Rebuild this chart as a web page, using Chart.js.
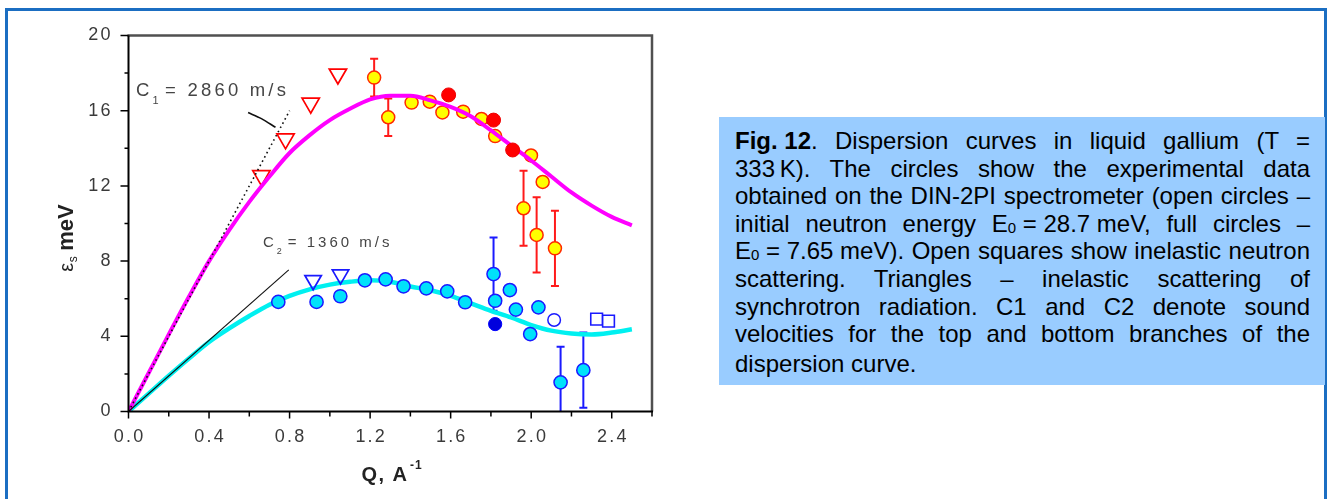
<!DOCTYPE html>
<html>
<head>
<meta charset="utf-8">
<script src="https://cdn.jsdelivr.net/npm/chart.js@4.4.1/dist/chart.umd.min.js"></script>
<style>
  html, body { margin: 0; padding: 0; background: #fff; }
  body { width: 1328px; height: 499px; position: relative; overflow: hidden;
         font-family: "Liberation Sans", Arial, sans-serif; }
  #frame { position: absolute; left: 5px; top: 8px; width: 1316px; height: 600px;
           border: 3px solid #1b6ec2; }
  #plot { position: absolute; left: 0; top: 0; width: 700px; height: 499px; }
  #caption { position: absolute; left: 719px; top: 117px; width: 575px; height: 258px;
             padding: 10px 15px 0 16px; background: #99ccff; color: #000;
             font-size: 24px; line-height: 27.6px; }
  #caption .ln { height: 27.6px; white-space: nowrap; text-align: justify; text-align-last: justify; }
  #caption .last { text-align-last: left; margin-top: 2.4px; }
  #caption .sub { font-size: 15px; line-height: 0; position: relative; top: 1px; }
  #caption .keep { display: inline-block; }
</style>
</head>
<body>
<div id="frame"></div>
<div id="plot"><canvas id="dispersion" width="700" height="499"></canvas></div>
<div id="caption">
  <div class="ln"><b class="keep">Fig. 12</b>. Dispersion curves in liquid gallium (T =</div>
  <div class="ln"><span class="keep">333&#8201;K).</span> The circles show the experimental data</div>
  <div class="ln">obtained on the DIN-2PI spectrometer (open circles –</div>
  <div class="ln">initial neutron energy <span class="keep">E<span class="sub">0</span> = 28.7 meV,</span> full circles –</div>
  <div class="ln"><span class="keep">E<span class="sub">0</span> = 7.65 meV).</span> Open squares show inelastic neutron</div>
  <div class="ln">scattering. Triangles – inelastic scattering of</div>
  <div class="ln">synchrotron radiation. C1 and C2 denote sound</div>
  <div class="ln">velocities for the top and bottom branches of the</div>
  <div class="ln last">dispersion curve.</div>
</div>
<script>
// model curves, sampled every 0.1 A^-1
const curveQ = [0, 0.1, 0.2, 0.3, 0.4, 0.5, 0.6, 0.7, 0.8, 0.9, 1.0, 1.1, 1.2,
                1.3, 1.4, 1.5, 1.6, 1.7, 1.8, 1.9, 2.0, 2.1, 2.2, 2.3, 2.4, 2.5];
const upperCurveE = [0, 2.05, 4.1, 6.1, 8.0, 9.65, 11.15, 12.5, 13.75, 14.7, 15.5, 16.1, 16.6,
                     16.8, 16.8, 16.55, 16.2, 15.7, 14.95, 14.15, 13.35, 12.5, 11.65, 10.95, 10.35, 9.9];
const lowerCurveE = [0, 0.95, 1.9, 2.82, 3.7, 4.42, 5.08, 5.68, 6.15, 6.5, 6.75, 6.9, 6.98,
                     6.9, 6.65, 6.45, 6.15, 5.75, 5.35, 5.0, 4.6, 4.3, 4.15, 4.1, 4.2, 4.37];

// sound velocity lines
const c1LineQ = [0, 0.8];
const c1LineE = [0, 16.0];
const c2LineQ = [0, 0.796];
const c2LineE = [0, 7.53];
const c1LeaderQ = [0.594, 0.66, 0.73];
const c1LeaderE = [15.9, 15.58, 15.12];

// synchrotron (triangles)
const synUpperQ = [0.66, 0.78, 0.905, 1.04];
const synUpperE = [12.55, 14.5, 16.4, 17.95];
const synLowerQ = [0.917, 1.053];
const synLowerE = [6.98, 7.28];

// DIN-2PI, E0 = 28.7 meV
const upperOpenQ = [1.22, 1.29, 1.406, 1.496, 1.559, 1.662, 1.753, 1.821, 1.999, 2.057, 1.962, 2.027, 2.118];
const upperOpenE = [17.76, 15.65, 16.43, 16.48, 15.91, 15.95, 15.56, 14.65, 13.62, 12.21, 10.81, 9.39, 8.68];
const upperOpenErr = [1.0, 1.0, 0, 0, 0, 0, 0, 0, 0, 0, 2.0, 2.0, 2.0];
const lowerOpenQ = [0.744, 0.934, 1.052, 1.174, 1.277, 1.366, 1.479, 1.583, 1.672, 1.813, 1.821,
                    1.894, 1.924, 1.995, 2.036, 2.146, 2.259];
const lowerOpenE = [5.83, 5.83, 6.13, 6.98, 7.03, 6.66, 6.55, 6.39, 5.81, 7.31, 5.89,
                    6.46, 5.42, 4.12, 5.54, 1.55, 2.2];
const lowerOpenErr = [0, 0, 0, 0, 0, 0, 0, 0, 0, 1.95, 0, 0, 0, 0, 0, 1.9, 2.0];
const lowerHollowQ = [2.114];
const lowerHollowE = [4.87];

// DIN-2PI, E0 = 7.65 meV
const upperFullQ = [1.59, 1.813, 1.908];
const upperFullE = [16.84, 15.5, 13.91];
const lowerFullQ = [1.821];
const lowerFullE = [4.65];

// inelastic neutron scattering (squares)
const neutronQ = [2.325, 2.384];
const neutronE = [4.91, 4.81];

const xTickLabels = ['0.0', '0.4', '0.8', '1.2', '1.6', '2.0', '2.4'];
const yTickLabels = ['0', '4', '8', '12', '16', '20'];

const FONT = '"Liberation Sans", Arial, sans-serif';

function pts(qs, es) {
  return qs.map((q, i) => ({ x: q, y: es[i] }));
}

// vertical error bars, drawn under the markers
const errorBars = {
  id: 'errorBars',
  beforeDatasetsDraw(chart) {
    const { ctx, chartArea: a, scales: { x, y } } = chart;
    ctx.save();
    ctx.beginPath();
    ctx.rect(a.left, a.top, a.right - a.left, a.bottom - a.top);
    ctx.clip();
    chart.data.datasets.forEach(ds => {
      if (!ds.errors) return;
      ctx.strokeStyle = ds.errorColor;
      ctx.lineWidth = 2;
      ds.data.forEach((p, i) => {
        const e = ds.errors[i];
        if (!e) return;
        const px = x.getPixelForValue(p.x);
        const top = y.getPixelForValue(p.y + e);
        const bot = y.getPixelForValue(p.y - e);
        ctx.beginPath();
        ctx.moveTo(px, top); ctx.lineTo(px, bot);
        ctx.moveTo(px - 4, top); ctx.lineTo(px + 4, top);
        ctx.moveTo(px - 4, bot); ctx.lineTo(px + 4, bot);
        ctx.stroke();
      });
    });
    ctx.restore();
  }
};

function spacedWidth(ctx, s, ls) {
  return ctx.measureText(s).width - ls;
}

// axes, ticks, tick labels, titles and the sound velocity labels
const axisDecor = {
  id: 'axisDecor',
  afterDraw(chart) {
    const { ctx, chartArea: a, scales: { x, y } } = chart;
    ctx.save();

    // top and right frame
    ctx.strokeStyle = '#505050';
    ctx.lineWidth = 2.5;
    ctx.beginPath();
    ctx.moveTo(a.left - 1, a.top);
    ctx.lineTo(a.right, a.top);
    ctx.lineTo(a.right, a.bottom);
    ctx.stroke();

    // left and bottom axes
    ctx.strokeStyle = '#000';
    ctx.lineWidth = 2;
    ctx.beginPath();
    ctx.moveTo(a.left, a.top);
    ctx.lineTo(a.left, a.bottom);
    ctx.lineTo(a.right + 1, a.bottom);
    ctx.stroke();

    // tick marks
    ctx.lineWidth = 1.5;
    ctx.beginPath();
    x.ticks.forEach(t => {
      const px = x.getPixelForValue(t.value);
      const major = Math.round(t.value * 10) % 4 === 0;
      ctx.moveTo(px, a.bottom);
      ctx.lineTo(px, a.bottom + (major ? 7 : 5));
    });
    y.ticks.forEach(t => {
      const py = y.getPixelForValue(t.value);
      const major = Math.round(t.value) % 4 === 0;
      ctx.moveTo(a.left, py);
      ctx.lineTo(a.left - (major ? 8 : 4), py);
    });
    ctx.stroke();

    // tick labels
    const tls = 2.2;
    ctx.fillStyle = '#3a3a3a';
    ctx.font = '18px ' + FONT;
    ctx.letterSpacing = tls + 'px';
    ctx.textAlign = 'left';
    ctx.textBaseline = 'middle';
    xTickLabels.forEach(s => {
      const px = x.getPixelForValue(parseFloat(s));
      ctx.fillText(s, px - spacedWidth(ctx, s, tls) / 2, 437);
    });
    yTickLabels.forEach(s => {
      const py = y.getPixelForValue(parseFloat(s));
      ctx.fillText(s, 110.5 - spacedWidth(ctx, s, tls), py);
    });

    // x title: Q, A^-1
    ctx.fillStyle = '#222';
    ctx.font = 'bold 20px ' + FONT;
    ctx.letterSpacing = '1.5px';
    const xt = 'Q, A';
    const wq = spacedWidth(ctx, xt, 1.5);
    const cx = (a.left + a.right) / 2 - 6;
    ctx.fillText(xt, cx - wq / 2, 475);
    ctx.font = 'bold 12px ' + FONT;
    ctx.letterSpacing = '1px';
    ctx.fillText('-1', cx + wq / 2 + 3, 466);

    // y title: eps_s meV, rotated
    ctx.save();
    ctx.translate(67, 238);
    ctx.rotate(-Math.PI / 2);
    ctx.letterSpacing = '0px';
    ctx.font = '20px ' + FONT;
    const we = ctx.measureText('ε').width;
    ctx.font = '12px ' + FONT;
    const ws = ctx.measureText('s').width;
    ctx.font = 'bold 22px ' + FONT;
    const wm = ctx.measureText('meV').width;
    const sx = -(we + ws + 6 + wm) / 2;
    ctx.font = '20px ' + FONT;
    ctx.fillText('ε', sx, 0);
    ctx.font = '12px ' + FONT;
    ctx.fillText('s', sx + we + 0.5, 7);
    ctx.font = 'bold 22px ' + FONT;
    ctx.fillText('meV', sx + we + ws + 6, 0);
    ctx.restore();

    // sound velocity labels
    ctx.fillStyle = '#454545';
    drawVelocity(ctx, '2860 m/s', '1', 136, 90.5, 18.5, 11, 3.2);
    drawVelocity(ctx, '1360 m/s', '2', 263, 243.3, 15, 9, 3.0);

    ctx.restore();
  }
};

function drawVelocity(ctx, value, sub, left, mid, size, subSize, ls) {
  ctx.textBaseline = 'middle';
  ctx.letterSpacing = ls + 'px';
  ctx.font = size + 'px ' + FONT;
  ctx.fillText('C', left, mid);
  let px = left + ctx.measureText('C').width;
  ctx.font = subSize + 'px ' + FONT;
  ctx.fillText(sub, px, mid + size * 0.55);
  px += ctx.measureText(sub).width + ls;
  ctx.font = size + 'px ' + FONT;
  ctx.fillText('= ' + value, px, mid);
}

const ctx = document.getElementById('dispersion');

new Chart(ctx, {
  type: 'scatter',
  data: {
    datasets: [
      {
        label: 'C1',
        data: pts(c1LineQ, c1LineE),
        showLine: true, pointRadius: 0, borderColor: '#111', borderWidth: 1.6,
        borderDash: [1.6, 3.2],
        order: 0
      },
      {
        label: 'C2',
        data: pts(c2LineQ, c2LineE),
        showLine: true, pointRadius: 0, borderColor: '#111', borderWidth: 1.1,
        order: 0
      },
      {
        label: 'C1 leader',
        data: pts(c1LeaderQ, c1LeaderE),
        showLine: true, pointRadius: 0, borderColor: '#111', borderWidth: 1.6,
        tension: 0.3,
        order: 0
      },
      {
        label: 'E0 = 7.65 meV, upper',
        data: pts(upperFullQ, upperFullE),
        pointStyle: 'circle', pointRadius: 7, pointBorderWidth: 1,
        pointBackgroundColor: '#ff0000', pointBorderColor: '#ee0000',
        order: 1
      },
      {
        label: 'E0 = 7.65 meV, lower',
        data: pts(lowerFullQ, lowerFullE),
        pointStyle: 'circle', pointRadius: 6.6, pointBorderWidth: 1,
        pointBackgroundColor: '#0000dd', pointBorderColor: '#0000ff',
        order: 1
      },
      {
        label: 'upper branch',
        data: pts(curveQ, upperCurveE),
        showLine: true, pointRadius: 0, borderColor: '#ff00ff', borderWidth: 4,
        cubicInterpolationMode: 'monotone',
        order: 2
      },
      {
        label: 'E0 = 28.7 meV, upper',
        data: pts(upperOpenQ, upperOpenE),
        errors: upperOpenErr, errorColor: '#ff1a1a',
        pointStyle: 'circle', pointRadius: 6.5, pointBorderWidth: 1.5,
        pointBackgroundColor: '#ffff00', pointBorderColor: '#ff2a00',
        order: 3
      },
      {
        label: 'E0 = 28.7 meV, lower',
        data: pts(lowerOpenQ, lowerOpenE),
        errors: lowerOpenErr, errorColor: '#1a1aff',
        pointStyle: 'circle', pointRadius: 6.6, pointBorderWidth: 1.5,
        pointBackgroundColor: '#00e1fa', pointBorderColor: '#1a1aff',
        order: 3
      },
      {
        label: 'E0 = 28.7 meV, lower, open',
        data: pts(lowerHollowQ, lowerHollowE),
        pointStyle: 'circle', pointRadius: 6.3, pointBorderWidth: 1.5,
        pointBackgroundColor: '#ffffff', pointBorderColor: '#1a1aff',
        order: 3
      },
      {
        label: 'inelastic neutron scattering',
        data: pts(neutronQ, neutronE),
        pointStyle: 'rect', pointRadius: 8.3, pointBorderWidth: 1.6,
        pointBackgroundColor: '#ffffff', pointBorderColor: '#1a1aff',
        order: 3
      },
      {
        label: 'synchrotron, upper',
        data: pts(synUpperQ, synUpperE),
        pointStyle: 'triangle', pointRotation: 180, pointRadius: 10, pointBorderWidth: 1.7,
        pointBackgroundColor: 'rgba(255,255,255,0)', pointBorderColor: '#ff0000',
        order: 3
      },
      {
        label: 'synchrotron, lower',
        data: pts(synLowerQ, synLowerE),
        pointStyle: 'triangle', pointRotation: 180, pointRadius: 9.5, pointBorderWidth: 1.7,
        pointBackgroundColor: 'rgba(255,255,255,0)', pointBorderColor: '#1a1aff',
        order: 3
      },
      {
        label: 'lower branch',
        data: pts(curveQ, lowerCurveE),
        showLine: true, pointRadius: 0, borderColor: '#00f0f0', borderWidth: 4.5,
        cubicInterpolationMode: 'monotone',
        order: 4
      }
    ]
  },
  options: {
    responsive: false,
    animation: false,
    events: [],
    layout: { padding: { left: 128.5, top: 35.5, right: 48, bottom: 87.5 } },
    plugins: {
      legend: { display: false },
      tooltip: { enabled: false }
    },
    scales: {
      x: { type: 'linear', display: false, min: 0, max: 2.6, ticks: { stepSize: 0.2 } },
      y: { type: 'linear', display: false, min: 0, max: 20, ticks: { stepSize: 2 } }
    }
  },
  plugins: [errorBars, axisDecor]
});
</script>
</body>
</html>
